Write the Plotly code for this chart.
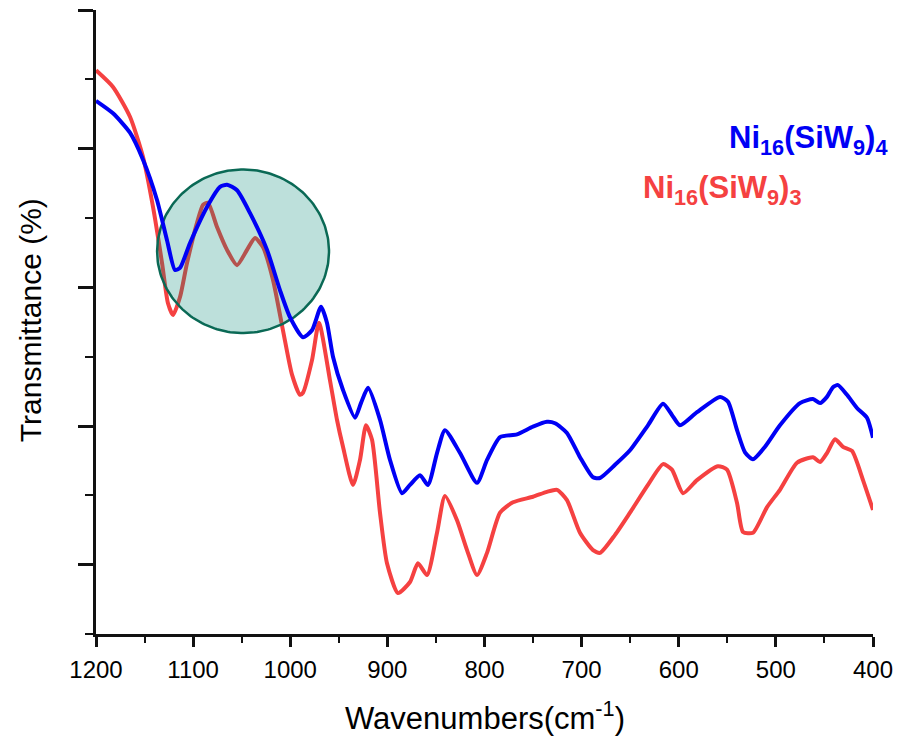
import numpy as np
import plotly.graph_objects as go

# Wavenumbers (cm-1) and transmittance (arbitrary, axis 0-90)
wn_blue = [1200, 1182.5, 1165, 1151.6, 1137.2, 1126.9, 1118.7, 1113.5, 1103.2, 1085.7,
           1072.3, 1065.1, 1054.8, 1041.4, 1023.9, 1010.6, 1000.3, 986.9, 977.6, 968.3,
           962.2, 956.0, 945.7, 933.3, 927.2, 919.9, 907.6, 897.3, 884.9, 876.7,
           866.4, 858.2, 848.9, 840.7, 825.2, 807.7, 797.4, 784.0, 766.5, 750.1,
           735.7, 727.4, 715.1, 701.7, 688.3, 681.1, 665.6, 650.2, 631.7, 616.2,
           607.0, 598.7, 581.2, 557.5, 549.3, 540.0, 531.8, 523.6, 511.2, 495.8,
           475.2, 461.8, 454.6, 447.4, 441.2, 436.0, 426.8, 416.5, 406.2, 400]
t_blue = [76.9, 75.1, 72.3, 68.4, 62.6, 56.8, 52.5, 52.8, 56.4, 61.6,
          64.5, 64.8, 64.0, 60.7, 55.4, 49.6, 45.7, 42.8, 43.8, 47.2,
          44.9, 40.0, 35.2, 31.2, 33.3, 35.5, 30.9, 25.1, 20.3, 21.5,
          22.9, 21.5, 26.1, 29.4, 26.1, 21.8, 25.1, 28.4, 28.8, 29.9,
          30.6, 30.4, 29.0, 25.5, 22.6, 22.5, 24.4, 26.5, 30.1, 33.2,
          31.6, 30.1, 32.0, 34.2, 33.5, 29.4, 26.2, 25.2, 27.0, 30.1,
          33.3, 33.9, 33.3, 34.2, 35.6, 35.9, 34.5, 32.6, 31.2, 28.3]

wn_red = [1200, 1182.5, 1165, 1151.6, 1141.3, 1132.0, 1125.9, 1120.7, 1113.5, 1106.3,
          1096.0, 1089.8, 1084.7, 1075.4, 1065.1, 1054.8, 1044.5, 1036.3, 1028.1, 1017.8,
          1007.5, 998.2, 990.0, 986.9, 977.6, 970.4, 959.1, 951.9, 945.7, 935.4,
          928.2, 922.0, 915.8, 907.6, 900.4, 889.1, 876.7, 868.5, 859.2, 848.9,
          840.7, 828.3, 818.0, 807.7, 797.4, 784.0, 770.7, 750.1, 735.7, 725.4,
          715.1, 701.7, 688.3, 681.1, 665.6, 650.2, 631.7, 616.2, 607.0, 595.6,
          581.2, 559.6, 550.3, 540.0, 533.8, 523.6, 509.1, 495.8, 478.2, 461.8,
          454.6, 447.4, 439.1, 430.9, 421.6, 410.3, 400]
t_red = [81.3, 78.9, 74.6, 68.8, 61.6, 53.5, 47.7, 46.0, 48.6, 53.5,
         59.3, 61.9, 62.2, 58.7, 55.4, 53.2, 55.4, 57.1, 55.8, 51.1,
         43.8, 37.4, 34.5, 34.8, 39.5, 44.9, 36.6, 30.9, 27.0, 21.5,
         25.1, 30.1, 28.0, 17.5, 10.2, 5.9, 7.5, 10.2, 8.5, 14.6,
         19.9, 16.4, 12.1, 8.5, 11.7, 17.5, 19.0, 19.8, 20.5, 20.8,
         19.3, 14.6, 12.1, 11.7, 14.3, 17.5, 21.5, 24.5, 23.7, 20.3,
         22.2, 24.2, 23.7, 18.9, 14.7, 14.6, 18.3, 20.8, 24.7, 25.5,
         24.8, 26.1, 28.1, 27.0, 26.4, 22.2, 17.9]

x_ticks = [1200, 1100, 1000, 900, 800, 700, 600, 500, 400]
series_names = ["Ni<sub>16</sub>(SiW<sub>9</sub>)<sub>4</sub>",
                "Ni<sub>16</sub>(SiW<sub>9</sub>)<sub>3</sub>"]

# highlight circle (center and radii in data units)
c_x, c_y, r_x, r_y = 1048.6, 55.2, 88.5, 11.8
th = np.linspace(0, 2 * np.pi, 200)
circ_x = c_x + r_x * np.cos(th)
circ_y = c_y + r_y * np.sin(th)

RED = "rgb(245,65,65)"
BLUE = "rgb(0,0,245)"
FONT = "Liberation Sans, Arial, sans-serif"

fig = go.Figure()
fig.add_trace(go.Scatter(x=wn_red, y=t_red, mode="lines",
                         line=dict(color=RED, width=4, shape="spline", smoothing=0.6),
                         showlegend=False, hoverinfo="skip"))
fig.add_trace(go.Scatter(x=circ_x, y=circ_y, mode="lines", fill="toself",
                         fillcolor="rgba(0,135,115,0.26)",
                         line=dict(color="rgb(10,105,85)", width=2.5),
                         showlegend=False, hoverinfo="skip"))
fig.add_trace(go.Scatter(x=wn_blue, y=t_blue, mode="lines",
                         line=dict(color=BLUE, width=4, shape="spline", smoothing=0.6),
                         showlegend=False, hoverinfo="skip"))

fig.update_layout(
    width=898, height=739,
    margin=dict(l=96, r=25, t=10, b=105, autoexpand=False),
    plot_bgcolor="white", paper_bgcolor="white",
    font=dict(family=FONT, color="black"),
    xaxis=dict(range=[1200, 400], tickvals=x_ticks, showline=True, linecolor="#111",
               linewidth=2.5, ticks="outside", ticklen=10, tickwidth=2.5, tickcolor="#111",
               tickfont=dict(size=24, family=FONT), ticklabelstandoff=2, automargin=False,
               minor=dict(dtick=50, tick0=0, ticks="outside", ticklen=6, tickwidth=2,
                          tickcolor="#111"),
               showgrid=False, zeroline=False),
    yaxis=dict(range=[0, 90], showline=True, linecolor="#111", linewidth=2.5,
               ticks="outside", tick0=10, dtick=20, ticklen=15, tickwidth=2.5,
               tickcolor="#111", showticklabels=False, automargin=False,
               minor=dict(dtick=10, tick0=0, ticks="outside", ticklen=8, tickwidth=2,
                          tickcolor="#111"),
               showgrid=False, zeroline=False),
    annotations=[
        dict(text="Wavenumbers(cm<sup>-1</sup>)", xref="paper", yref="paper",
             x=0.5006, y=0, yshift=-82, xanchor="center", yanchor="middle",
             showarrow=False, font=dict(size=31, family=FONT)),
        dict(text="Transmittance (%)", xref="paper", yref="paper",
             x=0, xshift=-66, y=0.503, xanchor="center", yanchor="middle",
             textangle=-90, showarrow=False, font=dict(size=30, family=FONT)),
        dict(text="<b>" + series_names[0] + "</b>", x=467, y=71.2, xref="x", yref="y",
             xanchor="center", yanchor="middle", showarrow=False,
             font=dict(size=31, color=BLUE, family=FONT)),
        dict(text="<b>" + series_names[1] + "</b>", x=555.5, y=64.0, xref="x", yref="y",
             xanchor="center", yanchor="middle", showarrow=False,
             font=dict(size=31, color=RED, family=FONT)),
    ],
)

fig.write_html("out.html")
